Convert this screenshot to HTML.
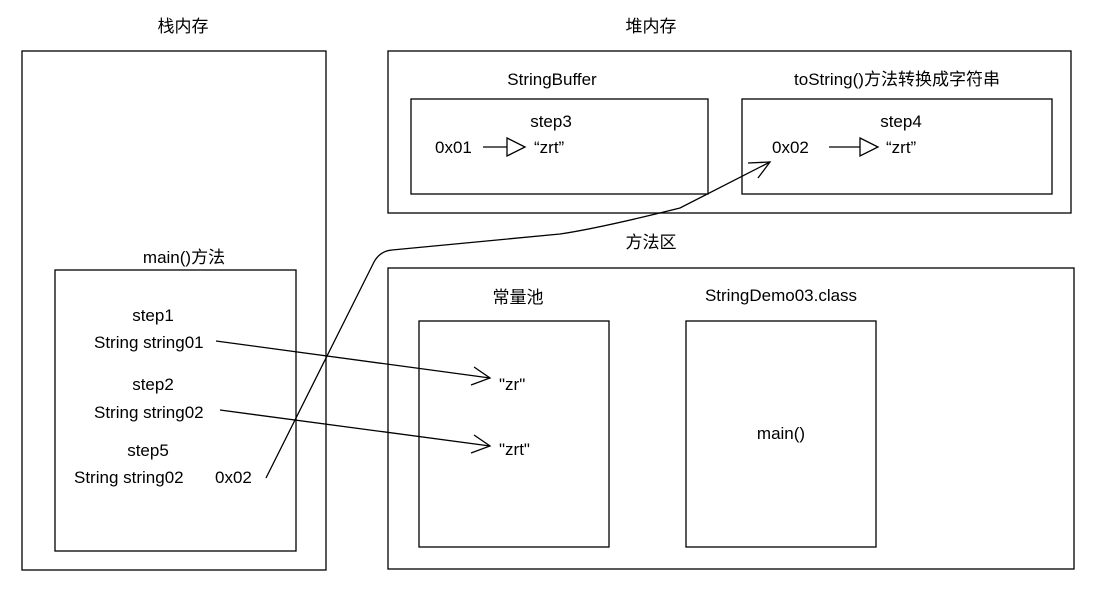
<!DOCTYPE html>
<html><head><meta charset="utf-8"><style>
html,body{margin:0;padding:0;background:#fff;}
svg text{font-family:"Liberation Sans","Noto Sans CJK SC",sans-serif;font-size:17px;fill:#000;}
</style></head><body>
<svg width="1094" height="589" viewBox="0 0 1094 589" xmlns="http://www.w3.org/2000/svg">
<g fill="none" stroke="#000" stroke-width="1.3">
<rect x="22" y="51" width="304" height="519"/>
<rect x="388" y="51" width="683" height="162"/>
<rect x="411" y="99" width="297" height="95"/>
<rect x="742" y="99" width="310" height="95"/>
<rect x="388" y="268" width="686" height="301"/>
<rect x="55" y="270" width="241" height="281"/>
<rect x="419" y="321" width="190" height="226"/>
<rect x="686" y="321" width="190" height="226"/>
<line x1="483" y1="147" x2="507" y2="147"/>
<polygon points="507,138 525,147 507,156" fill="#fff"/>
<line x1="829" y1="147" x2="860" y2="147"/>
<polygon points="860,138 878,147 860,156" fill="#fff"/>
<line x1="216" y1="341" x2="490" y2="378"/>
<polyline points="474,367 490,378 471,385"/>
<line x1="220" y1="410" x2="490" y2="446"/>
<polyline points="474,435 490,446 471,453"/>
<path d="M266,478 L374,262 Q380,251 392,250 L560,234 Q600,228 680,208 L770,162"/>
<polyline points="748,163 770,162 758,178"/>
</g>
<g text-anchor="middle">
<text x="183" y="32">栈内存</text>
<text x="651" y="32">堆内存</text>
<text x="552" y="85">StringBuffer</text>
<text x="897" y="85">toString()方法转换成字符串</text>
<text x="551" y="127">step3</text>
<text x="901" y="127">step4</text>
<text x="651" y="248">方法区</text>
<text x="184" y="263">main()方法</text>
<text x="518" y="303">常量池</text>
<text x="781" y="301">StringDemo03.class</text>
<text x="153" y="321">step1</text>
<text x="153" y="390">step2</text>
<text x="148" y="456">step5</text>
<text x="781" y="439">main()</text>
</g>
<text x="435" y="153">0x01</text>
<text x="534" y="153">“zrt”</text>
<text x="772" y="153">0x02</text>
<text x="886" y="153">“zrt”</text>
<text x="94" y="348">String string01</text>
<text x="94" y="418">String string02</text>
<text x="74" y="483">String string02</text>
<text x="215" y="483">0x02</text>
<text x="499" y="390">"zr"</text>
<text x="499" y="455">"zrt"</text>
</svg>
</body></html>
